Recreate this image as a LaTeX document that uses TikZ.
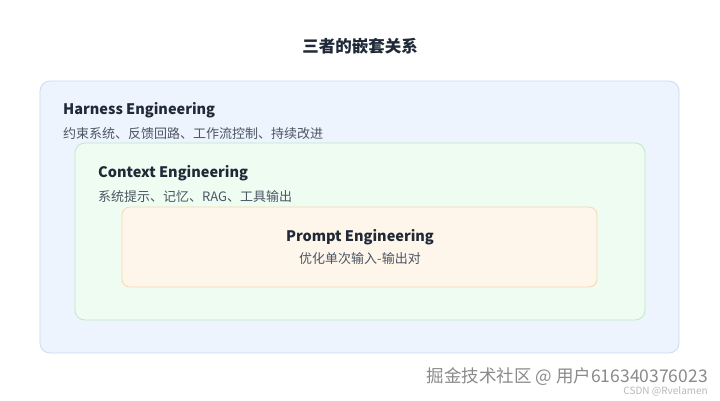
\documentclass[tikz,border=0pt]{standalone}
\usepackage{fontspec}
\setmainfont{Noto Sans CJK SC}
\usetikzlibrary{positioning}
\definecolor{harnessfill}{HTML}{EEF4FD}
\definecolor{harnessline}{HTML}{C9DAF2}
\definecolor{contextfill}{HTML}{EFFCF2}
\definecolor{contextline}{HTML}{BDE8C9}
\definecolor{promptfill}{HTML}{FEF6EA}
\definecolor{promptline}{HTML}{F6D9AE}
\definecolor{headtext}{HTML}{1F2937}
\definecolor{subtext}{HTML}{4B5563}
\definecolor{marktext}{HTML}{8A8A8A}
\tikzset{
  layer/.style={rounded corners=10pt, line width=.8pt},
  head/.style={inner sep=0pt, font=\bfseries\fontsize{14.5}{17}\selectfont, text=headtext},
  sub/.style={inner sep=0pt, font=\fontsize{13}{15}\selectfont, text=subtext},
}
\begin{document}
\begin{tikzpicture}  % ------ nested layers -------
      [x=1pt, y=-1pt]
    \useasboundingbox [fill=white] (0,0) rectangle (720,400);

    \node[head, font=\bfseries\fontsize{16.5}{19}\selectfont] (title) at (360,46) {三者的嵌套关系};

    % boxes
    \draw[layer, fill=harnessfill, draw=harnessline] (40,81) rectangle (679,353);
    \draw[layer, fill=contextfill, draw=contextline] (75,143) rectangle (645,320);
    \draw[layer, rounded corners=8pt, fill=promptfill, draw=promptline] (122,207) rectangle (597,287);

    % labels
    \node[head, anchor=west] (harness) at (63,110) {Harness Engineering};
    \node[sub, anchor=west] (harnesssub) at (63,134) {约束系统、反馈回路、工作流控制、持续改进};
    \node[head, anchor=west] (context) at (98,173) {Context Engineering};
    \node[sub, anchor=west] (contextsub) at (98,197) {系统提示、记忆、RAG、工具输出};
    \node[head] (prompt) at (360,237) {Prompt Engineering};
    \node[sub] (promptsub) at (360,259) {优化单次输入-输出对};

    % watermark
    \node[inner sep=0pt, anchor=east, text=marktext, font=\fontsize{17.5}{20}\selectfont] (mark) at (708,377) {掘金技术社区 @ 用户616340376023};
    \node[inner sep=0pt, anchor=east, text=marktext!60, font=\fontsize{10}{12}\selectfont] (csdn) at (708,391) {CSDN @Rvelamen};
\end{tikzpicture}
\end{document}
